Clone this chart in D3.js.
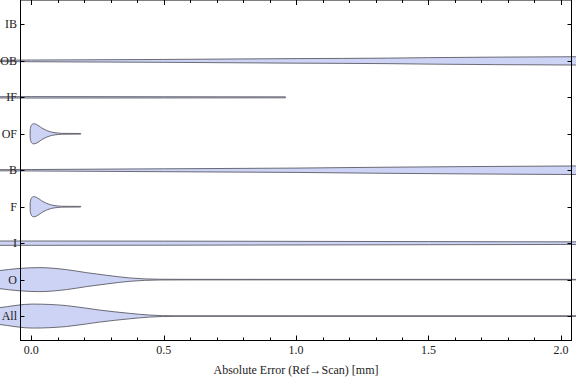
<!DOCTYPE html>
<html>
<head>
<meta charset="utf-8">
<script src="https://cdn.jsdelivr.net/npm/d3@7"></script>
<style>
  body { margin: 0; background: #fff; }
  svg { display: block; font-family: "Liberation Serif", "DejaVu Serif", serif; }
</style>
</head>
<body>
<div id="chart"></div>
<script>
// Categories, top to bottom
const categories = ["IB", "OB", "IF", "OF", "B", "F", "I", "O", "All"];

// Violin profiles: [error in mm, relative half-width]
const profileIB = [];
const profileOB = [[-0.2, 0.05], [0, 0.07], [0.5, 0.12], [1.0, 0.19], [1.35, 0.23], [1.5, 0.27], [2.0, 0.34], [2.2, 0.36]];
const profileIF = [[-0.2, 0.05], [0, 0.06], [0.5, 0.05], [0.96, 0.04]];
const profileOF = [[-0.004, 0.33], [0, 0.7], [0.008, 0.84], [0.02, 0.78], [0.039, 0.5], [0.058, 0.28], [0.077, 0.14], [0.102, 0.06], [0.115, 0.035], [0.187, 0.025]];
const profileB  = [[-0.2, 0.04], [0, 0.06], [0.5, 0.12], [1.0, 0.18], [1.32, 0.25], [2.0, 0.35], [2.2, 0.37]];
const profileF  = [[-0.004, 0.33], [0, 0.7], [0.008, 0.84], [0.02, 0.78], [0.039, 0.5], [0.058, 0.28], [0.077, 0.14], [0.102, 0.06], [0.115, 0.035], [0.187, 0.025]];
const profileI  = [[-0.2, 0.18], [0, 0.18], [0.5, 0.17], [1.0, 0.15], [1.5, 0.13], [2.0, 0.11], [2.2, 0.11]];
const profileO  = [[-0.45, 0], [-0.35, 0.03], [-0.25, 0.25], [-0.12, 0.75], [-0.05, 0.92], [0.03, 1.0], [0.134, 0.83], [0.209, 0.58], [0.285, 0.36], [0.372, 0.14], [0.485, 0.03], [0.6, 0.022], [1.0, 0.02], [2.2, 0.02]];
const profileAll = [[-0.45, 0], [-0.3, 0.2], [-0.12, 0.7], [0.005, 1.0], [0.134, 0.87], [0.258, 0.5], [0.372, 0.225], [0.447, 0.083], [0.543, 0.022], [1.0, 0.02], [2.2, 0.02]];

const profiles = [profileIB, profileOB, profileIF, profileOF, profileB, profileF, profileI, profileO, profileAll];

// x ticks
const majorTicks = [0, 0.5, 1.0, 1.5, 2.0];
const minorTicks = d3.range(0, 2.05, 0.1);

const width = 576, height = 381;
const frame = { left: 20.5, right: 571.5, top: 0, bottom: 340.5 };

const svg = d3.select("#chart").append("svg")
  .attr("width", width)
  .attr("height", height);

const x = d3.scaleLinear()
  .domain([-0.0405, 2.04])
  .range([frame.left, frame.right]);

const y = d3.scalePoint()
  .domain(categories)
  .range([frame.top, frame.bottom])
  .padding(0.67);

// half-width in pixels
const w = d3.scaleLinear().domain([0, 1]).range([0, 12]);

// violins
const area = d3.area()
  .x(d => x(d[0]))
  .y0(d => -w(d[1]))
  .y1(d => w(d[1]))
  .curve(d3.curveMonotoneX);

svg.append("g")
  .selectAll("path")
  .data(categories.map((c, i) => ({ cat: c, pts: profiles[i] })).filter(d => d.pts.length))
  .join("path")
  .attr("transform", d => `translate(0,${y(d.cat)})`)
  .attr("d", d => area(d.pts))
  .attr("fill", "#ccd3f5")
  .attr("stroke", "#5c5c66")
  .attr("stroke-width", 0.9);

// category labels sit on top of the violins
svg.append("g")
  .selectAll("text")
  .data(categories)
  .join("text")
  .attr("x", 17)
  .attr("y", d => y(d))
  .attr("dy", "0.33em")
  .attr("text-anchor", "end")
  .attr("font-size", 12)
  .attr("fill", "#222")
  .text(d => d);

// frame
svg.append("rect")
  .attr("x", frame.left)
  .attr("y", frame.top)
  .attr("width", frame.right - frame.left)
  .attr("height", frame.bottom - frame.top)
  .attr("fill", "none")
  .attr("stroke", "#000")
  .attr("stroke-width", 1);

const ticks = svg.append("g").attr("stroke", "#000").attr("stroke-width", 1);

// bottom and top ticks
const allX = minorTicks.map(v => ({ v, major: majorTicks.some(m => Math.abs(m - v) < 1e-6) }));
ticks.selectAll("line.b")
  .data(allX)
  .join("line")
  .attr("class", "b")
  .attr("x1", d => Math.round(x(d.v)) + 0.5)
  .attr("x2", d => Math.round(x(d.v)) + 0.5)
  .attr("y1", frame.bottom)
  .attr("y2", d => frame.bottom - (d.major ? 5 : 3));
ticks.selectAll("line.t")
  .data(allX)
  .join("line")
  .attr("class", "t")
  .attr("x1", d => Math.round(x(d.v)) + 0.5)
  .attr("x2", d => Math.round(x(d.v)) + 0.5)
  .attr("y1", frame.top)
  .attr("y2", d => frame.top + (d.major ? 5 : 3));

// left and right ticks
ticks.selectAll("line.l")
  .data(categories)
  .join("line")
  .attr("class", "l")
  .attr("x1", frame.left)
  .attr("x2", frame.left + 4)
  .attr("y1", d => Math.round(y(d)) + 0.5)
  .attr("y2", d => Math.round(y(d)) + 0.5);
ticks.selectAll("line.r")
  .data(categories)
  .join("line")
  .attr("class", "r")
  .attr("x1", frame.right)
  .attr("x2", frame.right - 4)
  .attr("y1", d => Math.round(y(d)) + 0.5)
  .attr("y2", d => Math.round(y(d)) + 0.5);

// x tick labels
svg.append("g")
  .selectAll("text")
  .data(majorTicks)
  .join("text")
  .attr("x", d => x(d))
  .attr("y", 354)
  .attr("text-anchor", "middle")
  .attr("font-size", 12)
  .attr("fill", "#222")
  .text(d => d3.format(".1f")(d));

// x axis title
svg.append("text")
  .attr("x", (frame.left + frame.right) / 2)
  .attr("y", 374)
  .attr("text-anchor", "middle")
  .attr("font-size", 12)
  .attr("fill", "#222")
  .text("Absolute Error (Ref\u2192Scan) [mm]");
</script>
</body>
</html>
